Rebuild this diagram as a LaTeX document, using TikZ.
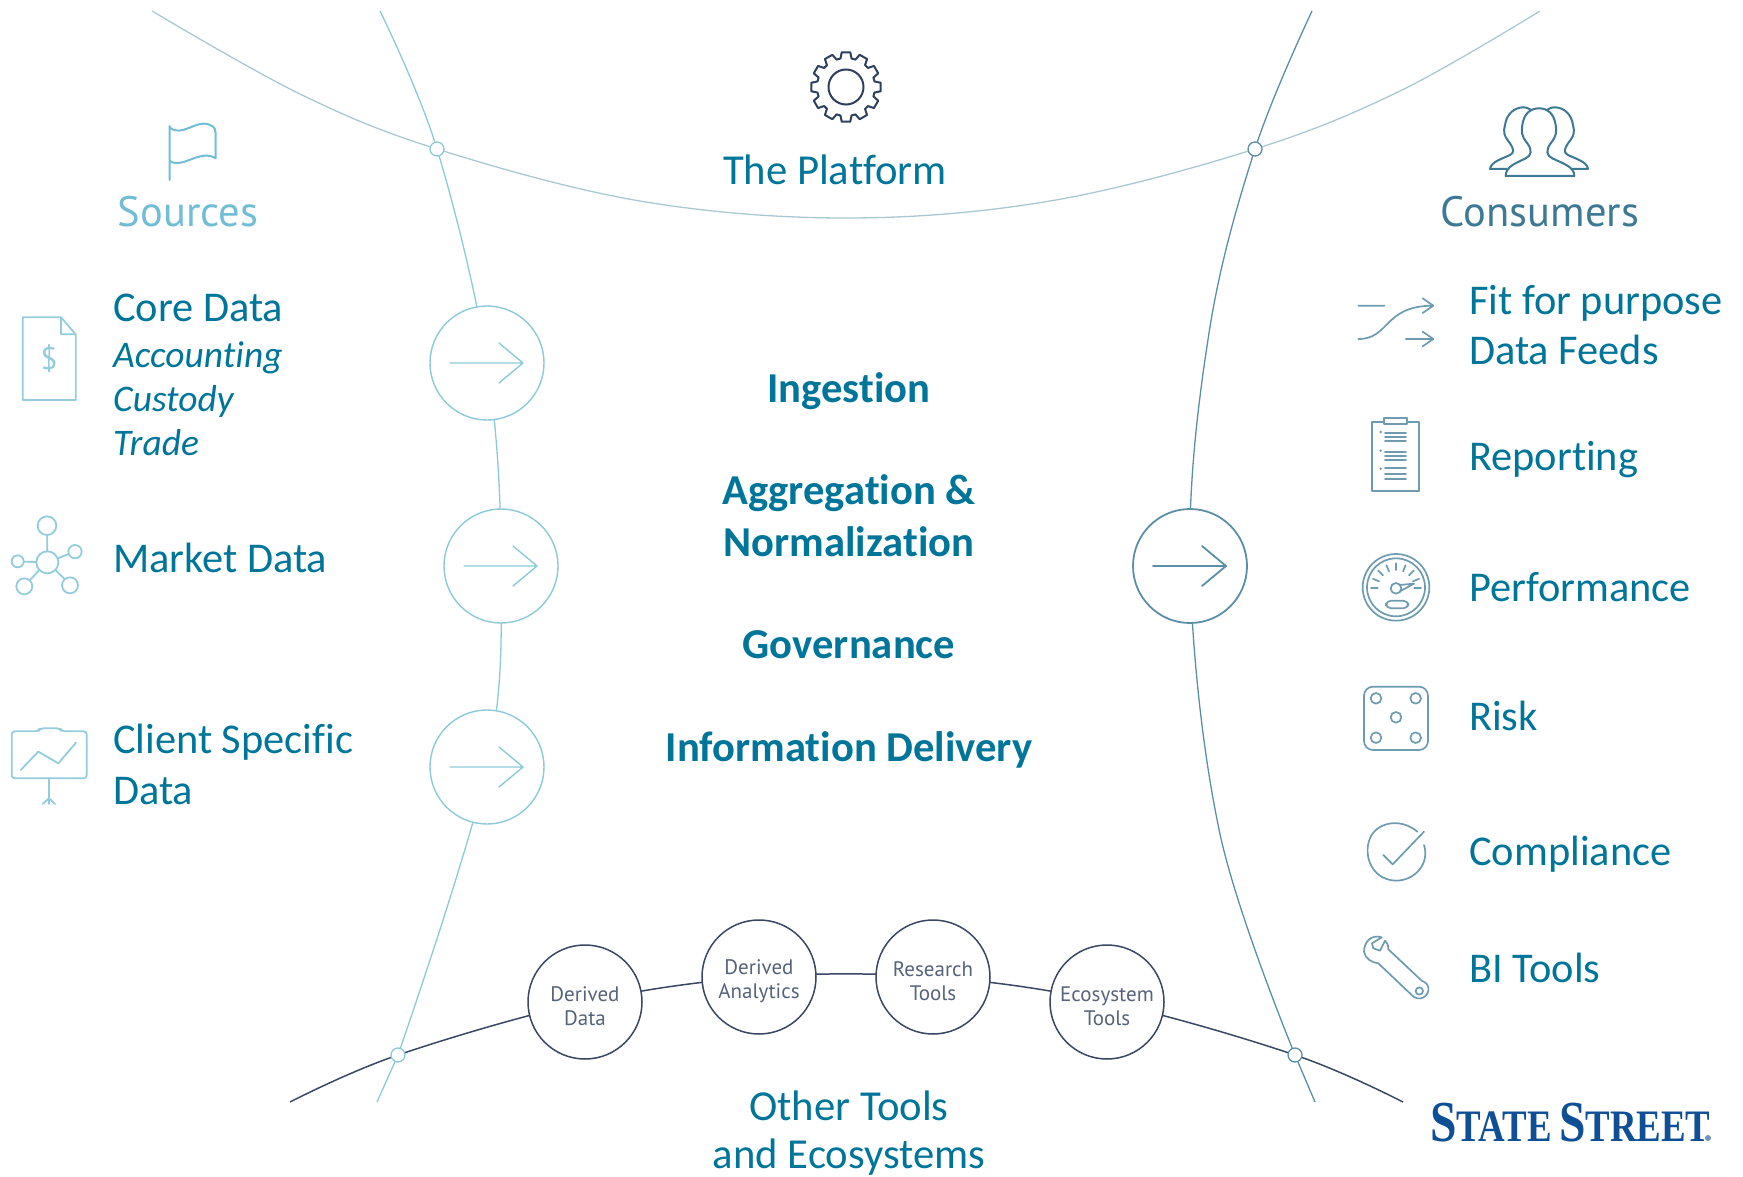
\documentclass[tikz,border=0pt]{standalone}
\usepackage{fontspec}
\setmainfont[Ligatures=NoCommon]{Carlito}
\newfontfamily\dinfont{PT Sans}
\newfontfamily\logofont{Liberation Serif}
\usetikzlibrary{backgrounds}
\definecolor{teal}{HTML}{00759A}
\definecolor{srccol}{HTML}{72BDD6}
\definecolor{srcicon}{HTML}{93CDDC}
\definecolor{ringcol}{HTML}{8CCAD8}
\definecolor{toparc}{HTML}{A9C8D2}
\definecolor{rightcol}{HTML}{5B8FA6}
\definecolor{concol}{HTML}{3D7894}
\definecolor{conicon}{HTML}{6E9BB0}
\definecolor{navy}{HTML}{3A4763}
\definecolor{gearcol}{HTML}{2D3F5E}
\definecolor{logocol}{HTML}{0F4F96}
\tikzset{
  big/.style={font=\fontsize{42.4}{50.5}\selectfont,text=teal,inner sep=0pt,anchor=base west,align=left},
  bigc/.style={font=\fontsize{42.7}{51}\selectfont,text=teal,inner sep=0pt,anchor=base,align=center},
  boldc/.style={font=\fontsize{42.6}{51}\selectfont\bfseries,text=teal,inner sep=0pt,anchor=base,align=center},
  ital/.style={font=\fontsize{37.5}{45}\selectfont\itshape,text=teal,inner sep=0pt,anchor=base west,align=left},
  din/.style={font=\dinfont\fontsize{42.5}{44}\selectfont,inner sep=0pt,anchor=base},
  ring/.style={circle,draw=#1,line width=1.4pt,fill=white,minimum size=114pt,inner sep=0pt},
  toolring/.style={circle,draw=navy,line width=1.5pt,fill=white,minimum size=114pt,inner sep=0pt,text=navy!85,
     font=\dinfont\fontsize{21}{24}\selectfont,align=center},
  junction/.style={circle,draw=#1,line width=1.3pt,fill=white,minimum size=14pt,inner sep=0pt},
  srcline/.style={draw=srcicon,line width=1.8pt,line join=round,line cap=round},
  conline/.style={draw=conicon,line width=1.7pt,line join=round,line cap=round},
}
\newcommand{\lowertext}{\rule{0pt}{24pt}}
\newcommand{\arrowglyph}[3]{%
  \draw[#2,line width=#3,line cap=round,line join=round]
    ([xshift=-37pt]#1.center) -- ([xshift=36pt]#1.center)
    ([xshift=12pt,yshift=20pt]#1.center) -- ([xshift=36pt]#1.center) -- ([xshift=12pt,yshift=-20pt]#1.center);}
\newcommand{\backperson}{%
  (450,237) .. controls (452,215) and (490,205) .. (510,195)
  .. controls (525,188) and (520,175) .. (510,160)
  .. controls (490,135) and (490,125) .. (495,105)
  .. controls (500,70) and (525,52) .. (550,52)
  .. controls (562,52) and (572,58) .. (580,66)
  (450,237) -- (500,237)}
\begin{document}
\begin{tikzpicture}[x=1pt,y=-1pt]
\useasboundingbox (0,0) rectangle (1743,1177);
% --- rings and junctions
\node[junction=ringcol] (j1) at (437,149) {};
\node[junction=rightcol] (j2) at (1255,149) {};
\node[junction=ringcol] (j3) at (398,1055) {};
\node[junction=rightcol] (j4) at (1295,1055) {};
\node[ring=ringcol] (c1) at (487,363) {};
\node[ring=ringcol] (c2) at (501,566) {};
\node[ring=ringcol] (c3) at (487,767) {};
\node[ring=rightcol,line width=1.8pt] (c4) at (1190,566) {};
\node[toolring] (t1) at (585,1002) {\lowertext Derived\\Data};
\node[toolring] (t2) at (759,977) {\lowertext Derived\\Analytics};
\node[toolring] (t3) at (933,977) {\lowertext Research\\Tools};
\node[toolring] (t4) at (1107,1002) {\lowertext Ecosystem\\Tools};
% --- free ends and way points
\coordinate (ts) at (152,11);
\coordinate (ta) at (300,94);
\coordinate (tb) at (640,201);
\coordinate (tm) at (846,218);
\coordinate (tc) at (1050,201);
\coordinate (td) at (1400,91);
\coordinate (te) at (1540,11);
\coordinate (ls) at (380,11);
\coordinate (le) at (377,1102);
\coordinate (rs) at (1312,11);
\coordinate (ra) at (1209,333);
\coordinate (rb) at (1220,834);
\coordinate (re) at (1315,1102);
\coordinate (bs) at (290,1102);
\coordinate (be) at (1403,1102);
\begin{scope}[on background layer]
  \draw[toparc,line width=1.3pt] plot[smooth,tension=.6] coordinates {(ts) (ta) (j1) (tb) (tm) (tc) (j2) (td) (te)};
  \draw[ringcol,line width=1.3pt] plot[smooth,tension=.6] coordinates {(ls) (j1) (c1) (c2) (c3) (j3)};
  \draw[ringcol,line width=1.3pt] (j3) -- (le);
  \draw[rightcol,line width=1.3pt] plot[smooth,tension=.6] coordinates {(rs) (j2) (ra) (c4) (rb) (j4)};
  \draw[rightcol,line width=1.3pt] (j4) -- (re);
  \draw[navy,line width=1.5pt] plot[smooth,tension=.6] coordinates {(bs) (j3) (t1) (t2) (t3) (t4) (j4) (be)};
\end{scope}
\arrowglyph{c1}{ringcol}{1.4pt}
\arrowglyph{c2}{ringcol}{1.4pt}
\arrowglyph{c3}{ringcol}{1.4pt}
\arrowglyph{c4}{rightcol}{1.8pt}
% --- centre text
\node[boldc] (ing) at (849,402) {Ingestion};
\node[boldc] (agg) at (849,504) {Aggregation \&};
\node[boldc] (nor) at (849,556) {Normalization};
\node[boldc] (gov) at (849,658) {Governance};
\node[boldc] (inf) at (849,761) {Information Delivery};
\node[bigc] (plat) at (835,185) {The Platform};
\node[bigc] (oth) at (849,1120) {Other Tools};
\node[bigc] (eco) at (849,1168) {and Ecosystems};
% --- headers
\node[din,text=srccol] (srch) at (188,226) {Sources};
\node[din,text=concol] (conh) at (1540,227) {Consumers};
% --- left labels
\node[big] (core) at (113,321) {Core Data};
\node[ital] (acc) at (113,367) {Accounting};
\node[ital] (cus) at (113,411) {Custody};
\node[ital] (tra) at (113,455) {Trade};
\node[big] (mkt) at (113,572) {Market Data};
\node[big] (cli1) at (113,753) {Client Specific};
\node[big] (cli2) at (113,804) {Data};
% --- right labels
\node[big] (fit1) at (1469,314) {Fit for purpose};
\node[big] (fit2) at (1469,364) {Data Feeds};
\node[big] (rep) at (1469,470) {Reporting};
\node[big] (perf) at (1469,601) {Performance};
\node[big] (risk) at (1469,730) {Risk};
\node[big] (comp) at (1469,865) {Compliance};
\node[big] (bi) at (1469,982) {BI Tools};
% --- logo
\node[font=\logofont\bfseries,text=logocol,inner sep=0pt,anchor=base west] (logo) at (1430,1141)
  {\scalebox{0.82}[1]{\fontsize{58}{58}\selectfont S\fontsize{45}{58}\selectfont TATE\hspace{9pt}\fontsize{58}{58}\selectfont S\fontsize{45}{58}\selectfont TREET}};
\fill[logocol!60] (1708,1138) circle (3pt);
% --- gear
\begin{scope}[shift={(846,87)}]
  \draw[gearcol,line width=2pt,line join=round]
    (-11:29) \foreach \a in {0,30,...,330} { -- ({\a-11}:29) -- ({\a-7}:35) -- ({\a+7}:35) -- ({\a+11}:29) } -- cycle;
  \draw[gearcol,line width=2pt] (0,0) circle (17.5);
\end{scope}
% --- flag
\begin{scope}[shift={(0,90)},scale=1/3]
  \draw[srccol,line width=2pt,line cap=round,line join=round]
    (509,270) -- (509,108)
    (509,112) .. controls (545,145) and (590,85) .. (630,105) .. controls (645,110) and (647,120) .. (647,130) -- (647,205)
    .. controls (600,175) and (545,240) .. (509,212);
  % document
  \draw[srcline] (68,930) -- (68,682) -- (183,682) -- (227,733) -- (227,930) -- cycle
     (183,682) -- (183,733) -- (227,733);
  \node[text=srcicon,font=\dinfont\fontsize{31}{31}\selectfont,inner sep=0pt] (dollar) at (147,805) {\$};
\end{scope}
% --- network icon
\begin{scope}[shift={(0,490)},scale=1/3]
  \draw[srcline] (142,217) circle (33) (141,107) circle (28) (225,185) circle (20)
    (53,214) circle (18) (73,289) circle (24) (210,286) circle (24);
  \draw[srcline] (142,135) -- (142,184) (174,205) -- (206,192) (72,215) -- (109,216)
    (90,270) -- (118,240) (195,268) -- (167,241);
  % chart
  \draw[srcline,rounded corners=3pt] (35,790) -- (35,865) -- (260,865) -- (260,724) -- (185,724) -- (180,715) -- (120,715) -- (115,724) -- (35,724) -- cycle;
  \draw[srcline] (62,840) -- (115,785) -- (175,820) -- (228,758);
  \draw[srcline] (147,865) -- (147,942) (128,942) -- (147,925) -- (165,942);
\end{scope}
% --- right icons, upper
\begin{scope}[shift={(1340,90)},scale=1/3]
  \draw[conline,draw=concol,line width=2pt] \backperson;
  \begin{scope}[xscale=-1,shift={(-1194,0)}]
    \draw[conline,draw=concol,line width=2pt] \backperson;
  \end{scope}
  \draw[conline,draw=concol,line width=2pt,fill=white]
    (497,258) .. controls (497,228) and (532,218) .. (557,205)
    .. controls (575,197) and (577,180) .. (562,160)
    .. controls (542,135) and (545,125) .. (547,105)
    .. controls (552,70) and (572,55) .. (597,55)
    .. controls (622,55) and (642,70) .. (647,105)
    .. controls (649,125) and (652,135) .. (632,160)
    .. controls (617,180) and (619,197) .. (637,205)
    .. controls (662,218) and (703,228) .. (703,258) -- cycle;
  % feeds
  \draw[conline] (55,647) -- (133,647)
    (55,747) .. controls (150,747) and (130,647) .. (280,647)
    (197,747) -- (280,747)
    (248,625) -- (280,647) -- (248,669)
    (248,725) -- (280,747) -- (248,769);
  % clipboard
  \draw[conline] (95,995) rectangle (237,1202);
  \draw[conline,fill=white] (133,985) rectangle (200,1003);
  \foreach \yy in {1028,1040,1052,1085,1097,1110,1135,1152,1168}
    \draw[conline] (135,\yy) -- (198,\yy);
  \foreach \yy in {1026,1082,1136}
    \fill[conicon] (122,\yy) circle (4);
\end{scope}
% --- right icons, lower
\begin{scope}[shift={(1340,530)},scale=1/3]
  % gauge
  \draw[conline] (168,172) circle (100) (168,172) circle (87);
  \foreach \a in {0,-22.5,...,-180}
    \draw[conline,shift={(168,175)}] (\a:55) -- (\a:75);
  \draw[conline] (168,175) circle (16);
  \draw[conline] (178,165) -- (222,161) -- (180,184);
  \draw[conline,rounded corners=5pt] (138,212) rectangle (205,235);
  % dice
  \draw[conline,rounded corners=9pt] (72,470) rectangle (264,660);
  \draw[conline] (108,505) circle (16) (227,505) circle (16) (168,562) circle (16) (108,623) circle (16) (227,623) circle (16);
  % compliance
  \draw[conline] (232,905) .. controls (185,865) and (120,875) .. (95,915)
     .. controls (65,965) and (90,1050) .. (168,1052)
     .. controls (225,1052) and (270,1000) .. (252,945);
  \draw[conline] (130,975) -- (158,1003) -- (252,905);
  % wrench
  \draw[conline] (125,1222) .. controls (95,1212) and (72,1235) .. (72,1265)
     .. controls (75,1285) and (95,1298) .. (115,1300)
     -- (215,1395) .. controls (235,1418) and (270,1400) .. (265,1372)
     .. controls (262,1360) and (255,1357) .. (245,1352)
     -- (145,1258) .. controls (145,1245) and (142,1238) .. (135,1232)
     -- (120,1262) -- (100,1255) -- (96,1240) -- cycle;
  \draw[conline] (238,1383) circle (11);
\end{scope}
\end{tikzpicture}
\end{document}
